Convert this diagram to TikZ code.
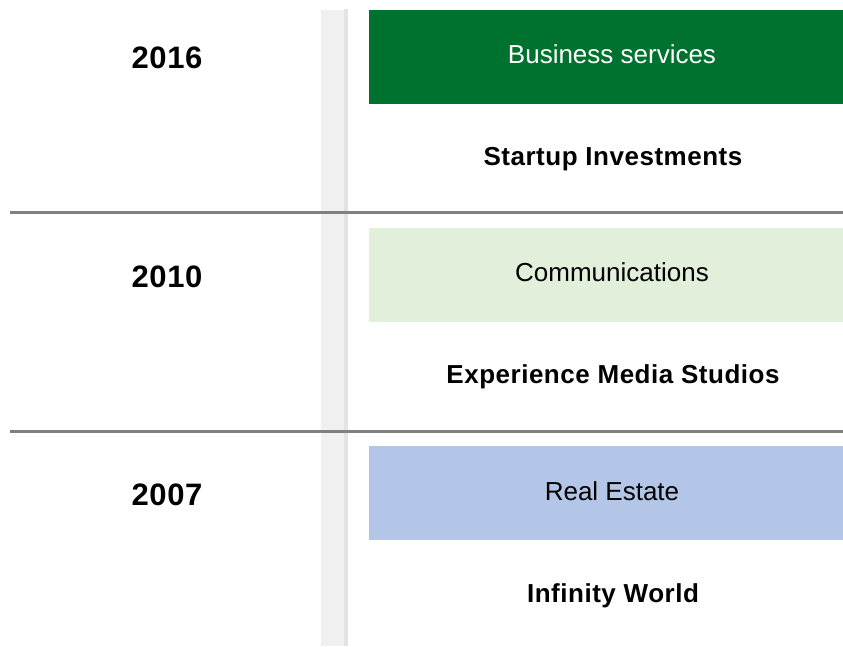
\documentclass[tikz,border=0pt]{standalone}
\usepackage{fontspec}
\setmainfont{Liberation Sans}
\newfontfamily\boldwide[LetterSpace=2.0]{Liberation Sans}
\definecolor{darkgreen}{HTML}{00722F}
\definecolor{lightgreen}{HTML}{E2EFDA}
\definecolor{lightblue}{HTML}{B4C6E7}
\definecolor{barfill}{HTML}{F0F0F0}
\definecolor{baredge}{HTML}{E3E3E3}
\definecolor{sepline}{HTML}{808080}
\tikzset{
  catbox/.style={draw=none, rectangle, minimum width=474pt, minimum height=94pt, inner sep=0pt, anchor=north west},
  yearlbl/.style={anchor=base, font=\fontsize{31}{36}\selectfont\boldwide\bfseries},
  catlbl/.style={anchor=base, font=\fontsize{26}{30}\selectfont},
  namelbl/.style={anchor=base, font=\fontsize{26}{30}\selectfont\boldwide\bfseries},
  sep/.style={draw=sepline, line width=3pt}
}
\begin{document}
\begin{tikzpicture}[x=1pt,y=-1pt]
\useasboundingbox (0,0) rectangle (843,646);
\fill[white] (0,0) rectangle (843,646);
% vertical grey bar
\fill[barfill] (321,10) rectangle (348,646);
\fill[baredge] (344,9) rectangle (348,646);
% separator lines
\coordinate (s1a) at (10,212.5);
\coordinate (s1b) at (843,212.5);
\coordinate (s2a) at (10,431.5);
\coordinate (s2b) at (843,431.5);
\draw[sep] (s1a) -- (s1b);
\draw[sep] (s2a) -- (s2b);
% boxes
\node[catbox, fill=darkgreen] (b1) at (369,10) {};
\node[catbox, fill=lightgreen] (b2) at (369,227.5) {};
\node[catbox, fill=lightblue] (b3) at (369,446) {};
% years
\node[yearlbl] (y1) at (167,68.5) {2016};
\node[yearlbl] (y2) at (167,287) {2010};
\node[yearlbl] (y3) at (167,505.5) {2007};
% category labels
\node[catlbl, text=white] (c1) at (612,63) {Business services};
\node[catlbl] (c2) at (612,281.5) {Communications};
\node[catlbl] (c3) at (612,500) {Real Estate};
% names
\node[namelbl] (n1) at (613,165) {Startup Investments};
\node[namelbl] (n2) at (613,383.5) {Experience Media Studios};
\node[namelbl] (n3) at (613,602) {Infinity World};
\end{tikzpicture}
\end{document}
